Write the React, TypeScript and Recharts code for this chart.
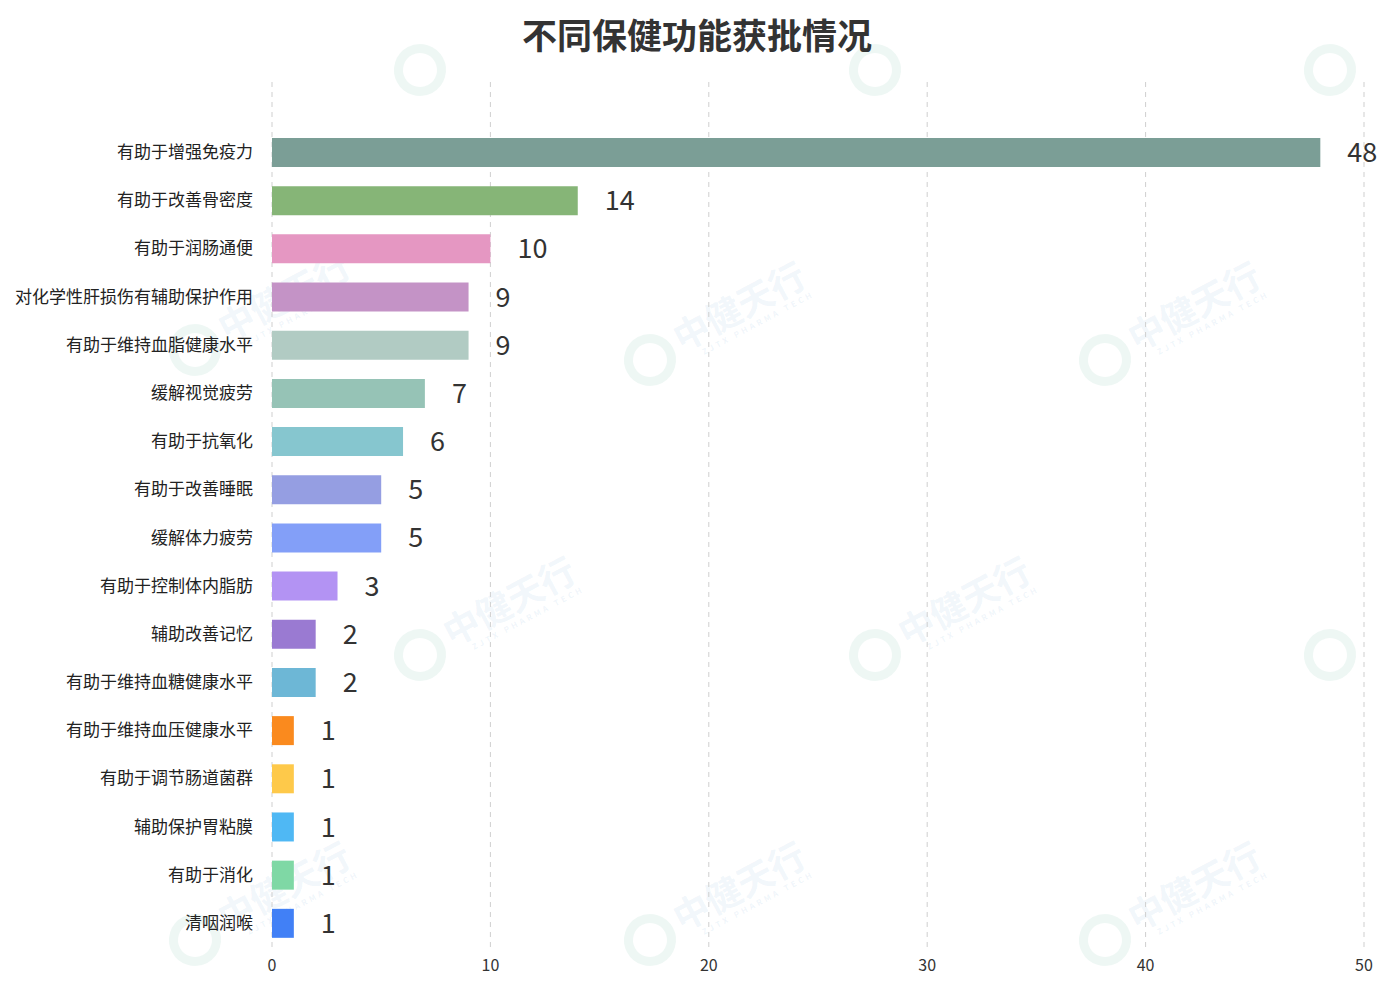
import React from 'react';
import { BarChart, Bar, XAxis, YAxis, CartesianGrid, Cell, LabelList } from 'recharts';

const categories = [
  '有助于增强免疫力',
  '有助于改善骨密度',
  '有助于润肠通便',
  '对化学性肝损伤有辅助保护作用',
  '有助于维持血脂健康水平',
  '缓解视觉疲劳',
  '有助于抗氧化',
  '有助于改善睡眠',
  '缓解体力疲劳',
  '有助于控制体内脂肪',
  '辅助改善记忆',
  '有助于维持血糖健康水平',
  '有助于维持血压健康水平',
  '有助于调节肠道菌群',
  '辅助保护胃粘膜',
  '有助于消化',
  '清咽润喉',
];

const values = [48, 14, 10, 9, 9, 7, 6, 5, 5, 3, 2, 2, 1, 1, 1, 1, 1];

const colors = [
  '#7b9e96', '#86b577', '#e597c2', '#c493c6', '#b1cbc3', '#96c3b6', '#86c6cf',
  '#959ee2', '#839ff8', '#b393f3', '#9a7ad2', '#6db7d6', '#fa8a1e', '#fec94a',
  '#4fb8f4', '#7fd8a5', '#4180f6',
];

const xTicks = [0, 10, 20, 30, 40, 50];

// [x, y, showText]
const watermarkSpots: [number, number, boolean][] = [
  [420, 70, false], [875, 70, false], [1330, 70, false],
  [195, 350, true], [650, 360, true], [1105, 360, true],
  [420, 655, true], [875, 655, true], [1330, 655, false],
  [195, 940, true], [650, 940, true], [1105, 940, true],
];

const data = categories.map((name, i) => ({ name, value: values[i] }));

function Watermark({ x, y, showText }: { x: number; y: number; showText: boolean }) {
  return (
    <div style={{ position: 'absolute', left: x - 30, top: y - 30, width: 240, height: 60, transform: 'rotate(-28deg)', transformOrigin: '30px 30px', pointerEvents: 'none' }}>
      <div style={{ position: 'absolute', left: 4, top: 4, width: 52, height: 52, borderRadius: '50%', border: '9px solid rgba(120,195,170,0.13)', boxSizing: 'border-box' }} />
      {showText && (
        <>
          <div style={{ position: 'absolute', left: 62, top: 2, fontSize: 36, fontWeight: 700, color: 'rgba(120,170,220,0.11)', whiteSpace: 'nowrap', lineHeight: '40px' }}>中健天行</div>
          <div style={{ position: 'absolute', left: 80, top: 42, fontSize: 8, fontWeight: 700, letterSpacing: 3, color: 'rgba(120,170,220,0.12)', whiteSpace: 'nowrap' }}>ZJTX PHARMA TECH</div>
        </>
      )}
    </div>
  );
}

export default function App() {
  return (
    <div style={{ position: 'absolute', left: 0, top: 0, width: 1394, height: 995, background: '#fff', overflow: 'hidden', fontFamily: '"Noto Sans CJK SC", "Noto Sans", sans-serif' }}>
      {watermarkSpots.map(([x, y, t], i) => (
        <Watermark key={i} x={x} y={y} showText={t} />
      ))}
      <div style={{ position: 'absolute', left: 0, top: 10, width: 1394, textAlign: 'center', fontSize: 35, fontWeight: 700, color: '#333', lineHeight: '48px' }}>
        不同保健功能获批情况
      </div>
      <div style={{ position: 'absolute', left: 0, top: 0 }}>
        <BarChart
          width={1394}
          height={995}
          data={data}
          layout="vertical"
          margin={{ top: 82, right: 30, bottom: 15, left: 0 }}
          style={{ fontFamily: '"Noto Sans CJK SC", "Noto Sans", sans-serif' }}
        >
          <CartesianGrid horizontal={false} vertical={true} stroke="#cfcfcf" strokeDasharray="5 5" />
          <XAxis
            type="number"
            domain={[0, 50]}
            ticks={xTicks}
            axisLine={false}
            tickLine={false}
            tickSize={0}
            tickMargin={10}
            tick={{ fontSize: 16, fill: '#333' }}
            height={30}
          />
          <YAxis
            type="category"
            dataKey="name"
            width={272}
            axisLine={false}
            tickLine={false}
            tickSize={0}
            tickMargin={19}
            interval={0}
            padding={{ top: 46, bottom: 3 }}
            tick={{ fontSize: 17, fill: '#222' }}
          />
          <Bar dataKey="value" barSize={29} isAnimationActive={false}>
            {data.map((d, i) => (
              <Cell key={d.name} fill={colors[i]} />
            ))}
            <LabelList dataKey="value" position="right" offset={27} style={{ fontSize: 27, fill: '#333' }} />
          </Bar>
        </BarChart>
      </div>
    </div>
  );
}
